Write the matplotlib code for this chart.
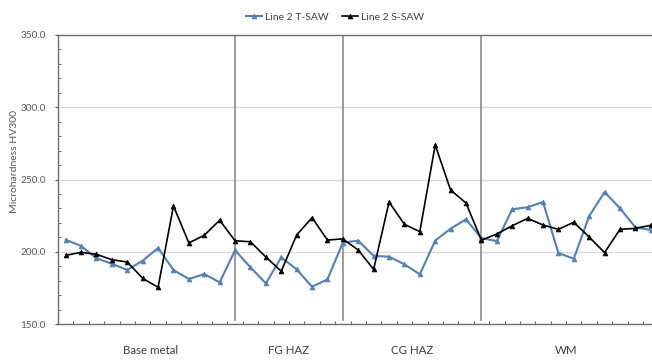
import matplotlib
matplotlib.use("Agg")
import matplotlib.pyplot as plt
import matplotlib.transforms as mtransforms
from matplotlib.ticker import MultipleLocator, FormatStrFormatter, FixedLocator

plt.rcParams['font.family'] = ['Lato', 'DejaVu Sans']

# ---- data ----
t_saw = [208.3, 204.0, 195.5, 191.7, 187.4, 193.8, 202.6, 187.4, 181.1, 184.6,
         178.8, 201.0, 189.2, 178.1, 196.1, 187.8, 175.8, 180.9, 206.3, 207.7,
         197.1, 196.6, 191.3, 184.4, 207.7, 216.0, 222.4, 209.4, 207.4, 229.4,
         230.8, 234.4, 199.1, 195.2, 224.7, 241.3, 230.1, 216.9, 215.1]
s_saw = [197.5, 199.6, 198.2, 194.5, 192.9, 181.6, 175.4, 231.7, 206.1, 211.4,
         221.8, 207.6, 206.9, 196.4, 186.5, 211.6, 223.6, 208.1, 208.9, 201.2,
         187.8, 234.4, 219.0, 213.9, 273.9, 242.7, 233.7, 208.0, 212.3, 218.0,
         223.1, 218.5, 215.5, 220.4, 210.2, 199.4, 215.5, 216.2, 218.3]
series_names = ["Line 2 T-SAW", "Line 2 S-SAW"]
zones = ["Base metal", "FG HAZ", "CG HAZ", "WM"]
zone_bounds = [0, 11, 18, 27, 38]   # point indices where zones start/end
y_label = "Microhardness HV300"
y_min, y_max, y_major, y_minor = 150, 350, 50, 10

# ---- figure ----
fig = plt.figure(figsize=(6.52, 3.6), dpi=100)
ax = fig.add_axes([58 / 652, 36 / 360, (652 - 58) / 652, (324 - 35) / 360])

x = list(range(len(t_saw)))
blue = '#4f81bd'
l1, = ax.plot(x, t_saw, color=blue, lw=1.5, marker='^', ms=3.5,
              markeredgewidth=0.5, label=series_names[0], zorder=3)
l2, = ax.plot(x, s_saw, color='black', lw=1.2, marker='^', ms=3.5,
              markeredgewidth=0.5, label=series_names[1], zorder=4)

ax.set_xlim(-0.5, 38.08)
ax.set_ylim(y_min, y_max)

# zone separators
for b in zone_bounds[1:-1]:
    ax.axvline(b, ymin=0.015, ymax=1.0, color='#8c8c8c', lw=1.2, zorder=2)

# zone labels
trans = mtransforms.blended_transform_factory(ax.transData, ax.transAxes)
for i, name in enumerate(zones):
    xc = (zone_bounds[i] + zone_bounds[i + 1]) / 2
    ax.text(xc, -0.09, name, transform=trans, ha='center', va='center',
            fontsize=8.3, color='#404040')

# y axis
ax.yaxis.set_major_locator(MultipleLocator(y_major))
ax.yaxis.set_minor_locator(MultipleLocator(y_minor))
ax.yaxis.set_major_formatter(FormatStrFormatter('%.1f'))
ax.tick_params(axis='y', which='minor', direction='in', length=2.5,
               color='#595959')
ax.tick_params(axis='y', which='major', direction='out', length=2.5,
               color='#595959', labelsize=7.2, labelcolor='#595959', pad=6)
ax.grid(axis='y', which='major', color='#d9d9d9', lw=0.9, zorder=0)

# x axis ticks between categories
ax.xaxis.set_major_locator(FixedLocator([k - 0.5 for k in range(len(t_saw) + 1)]))
ax.tick_params(axis='x', which='both', direction='in', length=2.5,
               color='#595959', labelbottom=False)

ax.spines['right'].set_visible(False)
for s in ['left', 'bottom', 'top']:
    ax.spines[s].set_color('#6e6e6e')
    ax.spines[s].set_linewidth(1.0)

fig.text(15 / 652, 1 - 162 / 360, y_label, rotation=90, ha='center',
         va='center', fontsize=7.5, color='#595959')

fig.legend(handles=[l1, l2], loc='center', bbox_to_anchor=(335 / 652, 1 - 17 / 360),
           ncol=2, frameon=False, fontsize=7.5, handlelength=1.6,
           columnspacing=1.2, handletextpad=0.3, labelcolor='#404040')

fig.savefig("out.png", dpi=100)
